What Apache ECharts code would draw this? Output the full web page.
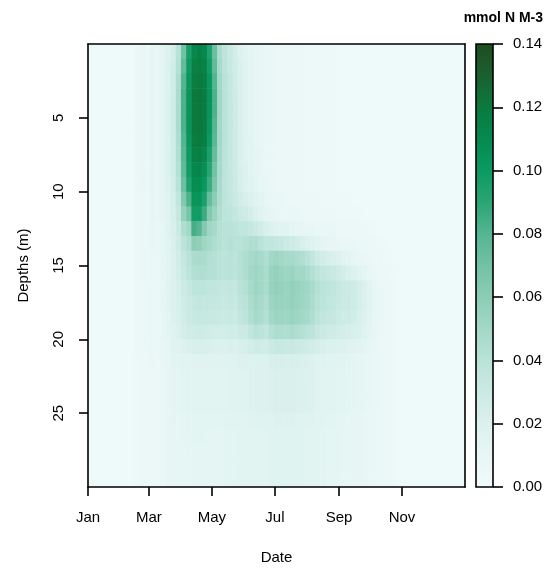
<!DOCTYPE html>
<html><head><meta charset="utf-8">
<script src="https://cdn.jsdelivr.net/npm/echarts@6/dist/echarts.min.js"></script>
<style>html,body{margin:0;padding:0;background:#fff}#c{width:553px;height:570px}</style>
</head><body><div id="c"></div><script>
// ---- axis ticks / labels ----
const monthTicks = [0, 59, 120, 181, 243, 304];
const monthLabels = ['Jan', 'Mar', 'May', 'Jul', 'Sep', 'Nov'];
const depthTicks = [5, 10, 15, 20, 25];
const legendTicks = [0, 0.02, 0.04, 0.06, 0.08, 0.10, 0.12, 0.14];
const legendColors = ['#f1fafb','#e7f6f5','#dbf1ee','#cbeae4','#b9e3d8','#a3d8c7','#8ccdb6','#72c2a5','#55b592','#2ba574','#0a9a62','#058a4f','#0b7a3e','#1a6030','#1f4d1f'];
// ---- grid of the data: start day of each 5-day column, top depth of each 1 m layer ----
const dayStarts = [0,5,10,15,20,25,30,35,40,45,50,55,60,65,70,75,80,85,90,95,100,105,110,115,120,125,130,135,140,145,150,155,160,165,170,175,180,185,190,195,200,205,210,215,220,225,230,235,240,245,250,255,260,265,270,275,280,285,290,295,300,305,310,315,320,325,330,335,340,345,350,355,360];
const depthTops = [0,1,2,3,4,5,6,7,8,9,10,11,12,13,14,15,16,17,18,19,20,21,22,23,24,25,26,27,28,29];
// ---- concentration profiles (mmol N m-3 x 1000), one array per column, depths 1..30 m ----
const flat = [3,3,3,3,3,3,3,3,3,3,3,3,3,3,3,3,3,3,3,3,3,3,3,3,3,3,3,3,3,3];
const profiles = [
flat,flat,flat,flat,flat,flat,flat,flat,flat,
[6,6,6,6,6,6,6,6,6,6,6,6,5,5,5,5,5,5,5,5,5,4,4,4,4,4,4,4,4,4],
[9,9,9,9,9,9,9,9,9,9,8,8,7,7,7,7,6,6,6,6,6,5,5,5,5,5,5,5,5,5],
[6,6,6,6,6,6,6,6,6,6,6,6,5,5,5,5,5,5,5,5,5,5,5,5,5,5,5,5,5,5],
[11,11,11,11,11,11,11,11,11,11,10,10,9,9,8,8,8,8,8,8,7,7,6,6,6,6,6,6,6,6],
[9,9,9,9,9,9,9,9,9,9,9,9,8,8,7,7,7,7,7,7,7,6,6,6,6,6,6,6,6,6],
[13,13,13,13,13,13,13,13,13,13,12,12,11,11,10,10,10,10,10,10,9,9,8,8,8,8,8,8,8,8],
[18,18,19,19,19,19,19,18,18,18,17,17,16,15,14,14,14,14,13,13,12,11,10,10,10,10,10,10,10,10],
[25,26,27,27,27,27,27,26,26,25,24,23,22,21,20,20,19,19,18,17,16,14,12,12,12,12,11,11,11,11],
[40,42,45,46,46,46,45,44,42,40,36,33,30,28,26,25,23,22,21,20,16,13,12,12,12,11,11,10,10,10],
[70,75,80,82,82,82,80,78,76,72,64,56,45,38,34,32,29,27,26,24,18,14,13,13,13,12,12,11,11,11],
[96,99,102,104,104,104,102,100,98,94,82,68,50,44,40,38,33,31,30,27,21,15,14,14,14,13,12,12,11,11],
[112,116,119,120,120,120,119,116,112,108,104,98,84,60,46,43,37,34,32,28,22,16,15,15,15,13,13,12,12,12],
[116,118,120,121,121,121,120,117,113,109,104,98,80,58,47,44,37,35,33,29,22,16,15,15,15,13,13,12,12,12],
[112,115,118,119,119,119,117,112,107,102,95,86,64,52,46,44,37,34,32,28,22,16,15,15,15,13,13,12,12,12],
[94,98,102,104,104,102,100,95,91,86,74,64,52,48,43,42,36,34,32,27,21,16,15,14,14,13,12,12,12,12],
[72,76,80,82,82,80,78,74,70,66,60,54,48,45,42,42,36,34,32,26,20,16,15,15,15,13,12,12,12,12],
[46,48,50,51,51,50,50,49,48,47,46,44,42,42,40,40,35,33,31,26,20,16,15,15,15,13,12,12,12,12],
[37,38,40,40,40,40,40,39,38,38,38,38,40,40,38,38,34,32,30,26,20,16,15,15,15,14,13,13,13,13],
[31,32,34,34,34,34,34,34,34,34,35,37,40,42,40,40,36,34,32,27,21,17,16,16,16,14,13,13,13,13],
[25,26,27,28,28,28,28,28,28,29,31,34,38,40,38,38,34,32,30,26,20,17,16,16,16,14,13,13,13,13],
[19,20,20,20,20,20,21,21,22,23,26,30,36,40,42,42,40,38,36,30,22,18,17,17,17,15,14,14,14,14],
[15,16,16,16,16,16,17,17,18,19,22,28,36,42,45,45,42,40,38,30,23,18,17,17,17,15,14,14,14,14],
[12,13,13,13,13,13,14,14,15,16,19,25,34,44,48,50,48,46,44,36,26,19,18,18,18,16,15,15,15,15],
[10,11,11,11,11,11,11,12,12,13,16,20,30,44,50,52,52,50,48,40,28,19,18,18,18,16,15,15,15,15],
[9,9,9,9,9,9,9,10,10,11,13,16,26,40,48,50,50,48,46,38,27,19,18,18,18,16,15,15,15,15],
[8,8,8,8,8,8,8,8,8,9,10,12,22,36,44,46,46,44,42,36,26,19,18,18,18,16,15,15,15,15],
[7,7,7,7,7,7,7,7,7,7,8,10,18,36,50,54,55,53,50,42,30,22,20,20,20,17,16,16,16,16],
[6,6,6,6,6,6,6,6,6,6,7,9,16,34,52,56,57,55,53,45,32,23,21,21,21,18,17,17,17,17],
[6,6,6,6,6,6,6,6,6,6,7,8,15,32,50,54,56,55,53,45,32,23,21,21,21,18,17,17,17,17],
[5,5,5,5,5,5,5,5,5,5,6,7,14,30,48,52,55,54,52,44,31,22,21,21,21,18,17,17,17,17],
[5,5,5,5,5,5,5,5,5,5,6,7,12,28,48,54,57,56,54,46,32,23,21,21,21,18,17,17,17,17],
[5,5,5,5,5,5,5,5,5,5,6,7,11,26,46,50,55,54,52,44,30,22,20,20,20,17,16,16,16,16],
[5,5,5,5,5,5,5,5,5,5,5,6,10,22,44,50,53,52,50,42,29,21,20,20,20,17,16,16,16,16],
[4,4,4,4,4,4,4,4,4,4,5,6,9,19,40,47,51,50,48,40,28,20,19,19,19,16,15,15,15,15],
[4,4,4,4,4,4,4,4,4,4,5,6,9,16,35,43,47,46,44,38,26,19,18,18,18,16,15,15,15,15],
[4,4,4,4,4,4,4,4,4,4,5,5,8,14,29,38,42,41,39,33,24,17,16,16,16,15,14,14,14,14],
[4,4,4,4,4,4,4,4,4,4,4,5,8,12,26,35,39,38,36,30,22,16,15,15,15,14,13,13,13,13],
[4,4,4,4,4,4,4,4,4,4,4,5,7,11,23,33,37,36,34,28,20,15,14,14,14,13,12,12,12,12],
[4,4,4,4,4,4,4,4,4,4,4,5,7,10,21,31,36,35,33,28,20,15,14,14,14,13,12,12,12,12],
[3,3,3,3,3,3,3,3,3,3,4,4,6,9,18,28,33,32,30,26,19,14,13,13,13,12,12,12,12,12],
[3,3,3,3,3,3,3,3,3,3,4,4,6,8,15,25,31,30,28,25,18,14,13,13,13,12,11,11,11,11],
[3,3,3,3,3,3,3,3,3,3,4,4,6,8,13,22,30,30,28,24,17,13,12,12,12,11,11,11,11,11],
[3,3,3,3,3,3,3,3,3,3,3,4,5,7,11,19,28,28,26,22,16,12,12,12,12,11,10,10,10,10],
[3,3,3,3,3,3,3,3,3,3,3,4,5,6,9,15,24,24,22,20,15,11,11,11,11,10,10,10,10,10],
[3,3,3,3,3,3,3,3,3,3,3,3,5,6,8,12,20,20,18,17,13,10,10,10,10,9,9,9,9,9],
[3,3,3,3,3,3,3,3,3,3,3,3,4,5,7,9,15,15,14,13,11,9,9,9,9,8,8,8,8,8],
[3,3,3,3,3,3,3,3,3,3,3,3,4,5,6,7,11,11,10,10,9,8,8,8,8,7,7,7,7,7],
[3,3,3,3,3,3,3,3,3,3,3,3,3,4,5,6,8,8,8,7,7,7,7,7,7,6,6,6,6,6],
[3,3,3,3,3,3,3,3,3,3,3,3,3,4,4,5,6,6,6,6,6,6,6,6,6,5,5,5,5,5],
[3,3,3,3,3,3,3,3,3,3,3,3,3,3,4,4,5,5,5,5,5,5,5,5,5,5,5,5,5,5],
[3,3,3,3,3,3,3,3,3,3,3,3,3,3,3,4,4,4,4,4,4,4,4,4,4,4,4,4,4,4],
flat,flat,flat,flat,flat,flat,flat,flat,flat,flat,flat,flat,flat
];

const FONT = 'Liberation Sans, Arial, Helvetica, sans-serif';
const cells = [];
profiles.forEach((prof, i) => {
  const d0 = dayStarts[i];
  const d1 = i + 1 < dayStarts.length ? dayStarts[i + 1] : 365;
  prof.forEach((v, j) => cells.push([d0, d1, depthTops[j], depthTops[j] + 1, v / 1000]));
});

const chart = echarts.init(document.getElementById('c'), null, {renderer: 'canvas'});
const ls = () => ({color: '#000', width: 1.6});
chart.setOption({
  animation: false,
  backgroundColor: '#fff',
  textStyle: {fontFamily: FONT},
  title: {text: 'mmol N M-3', right: 5, top: 6,
    textStyle: {fontFamily: FONT, fontSize: 14, fontWeight: 'bold', color: '#000'}},
  grid: [
    {left: 88, top: 44, width: 377, height: 443},
    {left: 476, top: 44, width: 17, height: 443}
  ],
  visualMap: {show: false, type: 'continuous', seriesIndex: 0, dimension: 4,
    min: 0, max: 0.14, inRange: {color: legendColors}},
  xAxis: [
    {gridIndex: 0, type: 'value', min: 0, max: 365, position: 'bottom', z: 10,
      axisLine: {show: true, onZero: false, lineStyle: ls()}, splitLine: {show: false},
      axisTick: {show: true, length: 9, lineStyle: ls(), customValues: monthTicks},
      axisLabel: {customValues: monthTicks, formatter: v => monthLabels[monthTicks.indexOf(v)],
        color: '#000', fontSize: 15, fontFamily: FONT, margin: 23},
      name: 'Date', nameLocation: 'middle', nameGap: 63,
      nameTextStyle: {color: '#000', fontSize: 15, fontFamily: FONT}},
    {gridIndex: 0, type: 'value', min: 0, max: 365, position: 'top', z: 10,
      axisLine: {show: true, onZero: false, lineStyle: ls()}, axisTick: {show: false}, axisLabel: {show: false}, splitLine: {show: false}},
    {gridIndex: 1, type: 'value', min: 0, max: 1, show: false}
  ],
  yAxis: [
    {gridIndex: 0, type: 'value', min: 0, max: 30, inverse: true, position: 'left', z: 10,
      axisLine: {show: true, onZero: false, lineStyle: ls()}, splitLine: {show: false},
      axisTick: {show: true, length: 9, lineStyle: ls(), customValues: depthTicks},
      axisLabel: {customValues: depthTicks, rotate: 90, color: '#000', fontSize: 15, fontFamily: FONT, margin: 22},
      name: 'Depths (m)', nameLocation: 'middle', nameGap: 57, nameRotate: 90,
      nameTextStyle: {color: '#000', fontSize: 15, fontFamily: FONT}},
    {gridIndex: 0, type: 'value', min: 0, max: 30, inverse: true, position: 'right', z: 10,
      axisLine: {show: true, onZero: false, lineStyle: ls()}, axisTick: {show: false}, axisLabel: {show: false}, splitLine: {show: false}},
    {gridIndex: 1, type: 'value', min: 0, max: 0.14, position: 'right', z: 10,
      axisLine: {show: false, onZero: false}, splitLine: {show: false},
      axisTick: {show: true, length: 10, lineStyle: ls(), customValues: legendTicks},
      axisLabel: {customValues: legendTicks, formatter: v => v.toFixed(2), color: '#000', fontSize: 15, fontFamily: FONT, margin: 20}}
  ],
  series: [
    {type: 'custom', xAxisIndex: 0, yAxisIndex: 0, data: cells, z: 2,
      encode: {x: [0, 1], y: [2, 3]},
      renderItem: (params, api) => {
        const p0 = api.coord([api.value(0), api.value(2)]);
        const p1 = api.coord([api.value(1), api.value(3)]);
        return {type: 'rect',
          shape: {x: Math.min(p0[0], p1[0]), y: Math.min(p0[1], p1[1]),
                  width: Math.abs(p1[0] - p0[0]) + 0.5, height: Math.abs(p1[1] - p0[1]) + 0.5},
          style: {fill: api.visual('color')}};
      }},
    {type: 'custom', xAxisIndex: 2, yAxisIndex: 2, data: [[0, 1, 0, 0.14]], z: 2,
      encode: {x: [0, 1], y: [2, 3]},
      renderItem: (params, api) => {
        const p0 = api.coord([api.value(0), api.value(2)]);
        const p1 = api.coord([api.value(1), api.value(3)]);
        const stops = legendColors.map((c, i) => ({offset: i / (legendColors.length - 1), color: c}));
        const shape = {x: p0[0], y: p1[1], width: p1[0] - p0[0], height: p0[1] - p1[1]};
        return {type: 'group', children: [
          {type: 'rect', shape, style: {fill: new echarts.graphic.LinearGradient(0, 1, 0, 0, stops)}},
          {type: 'rect', shape, style: {fill: 'none', stroke: '#000', lineWidth: 1.6}}
        ]};
      }}
  ]
});
</script></body></html>
